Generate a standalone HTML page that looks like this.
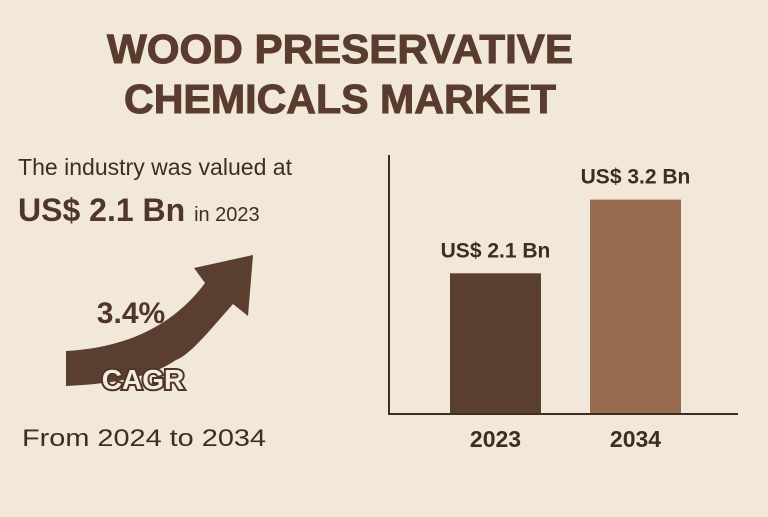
<!DOCTYPE html>
<html><head><meta charset="utf-8"><style>
html,body{margin:0;padding:0;}
body{width:768px;height:512px;background:#f2e8da;overflow:hidden;font-family:"Liberation Sans",sans-serif;color:#4f3628;}
</style></head><body>
<svg width="768" height="512" xmlns="http://www.w3.org/2000/svg">
<rect width="768" height="512" fill="#f2e8da"/>
<g font-family="Liberation Sans, sans-serif" font-weight="bold" fill="#5a3c2e" font-size="41" text-anchor="middle" stroke="#5a3c2e" stroke-width="1">
<text x="340" y="63" textLength="466" lengthAdjust="spacingAndGlyphs">WOOD PRESERVATIVE</text>
<text x="340" y="113" textLength="432" lengthAdjust="spacingAndGlyphs">CHEMICALS MARKET</text>
</g>
<text x="18" y="175" font-size="23" fill="#3f2c22" textLength="274" lengthAdjust="spacingAndGlyphs">The industry was valued at</text>
<text x="18" y="221" font-size="32" font-weight="bold" fill="#4f3628">US$ 2.1 Bn <tspan font-size="20" font-weight="normal" fill="#3f2c22">in 2023</tspan></text>
<path d="M66 351 C120 348 170 330 205 283 L194 268 L253 255 L248 316 L233 304 C210 330 190 355 176 360 C150 378 110 384 66 386 Z" fill="#5a3e30"/>
<text x="131" y="323" font-size="30" font-weight="bold" fill="#4f3628" text-anchor="middle">3.4%</text>
<text x="143" y="389" font-size="28" font-weight="bold" fill="#f5ece0" stroke="#4f3628" stroke-width="4" paint-order="stroke" text-anchor="middle">CAGR</text>
<text x="144" y="446" font-size="24" fill="#3f2c22" text-anchor="middle" textLength="244" lengthAdjust="spacingAndGlyphs">From 2024 to 2034</text>
<g id="chart"></g>
</svg>
<script>
const categories = ["2023", "2034"];
const values = [2.1, 3.2];
const valueLabels = ["US$ 2.1 Bn", "US$ 3.2 Bn"];
const colors = ["#5a3e30", "#976c4e"];
const ns = "http://www.w3.org/2000/svg";
const g = document.getElementById("chart");
const baseY = 414, axisX = 389, scale = 67;
const xPos = i => 450 + i * 140;
const barW = 91;
const yPos = v => baseY - v * scale;
function mk(tag, attrs){const e=document.createElementNS(ns,tag);for(const k in attrs)e.setAttribute(k,attrs[k]);g.appendChild(e);return e;}
categories.forEach((c,i)=>{
  const b = mk("rect",{x:xPos(i),y:yPos(values[i]),width:barW,height:baseY-yPos(values[i]),fill:colors[i]});
  
  
  const t = mk("text",{x:xPos(i)+barW/2,y:yPos(values[i])-16,"font-size":"21","font-weight":"bold",fill:"#3f2c22","text-anchor":"middle"});
  t.textContent = valueLabels[i];
  
  
  const x = mk("text",{x:xPos(i)+barW/2,y:447,"font-size":"23","font-weight":"bold",fill:"#3f2c22","text-anchor":"middle"});
  x.textContent = c;
  
  
});
const ya = mk("line",{x1:axisX,y1:155,x2:axisX,y2:baseY,stroke:"#3f2c22","stroke-width":"2"});


const xa = mk("line",{x1:axisX-1,y1:baseY,x2:738,y2:baseY,stroke:"#3f2c22","stroke-width":"2"});


</script>
</body></html>
